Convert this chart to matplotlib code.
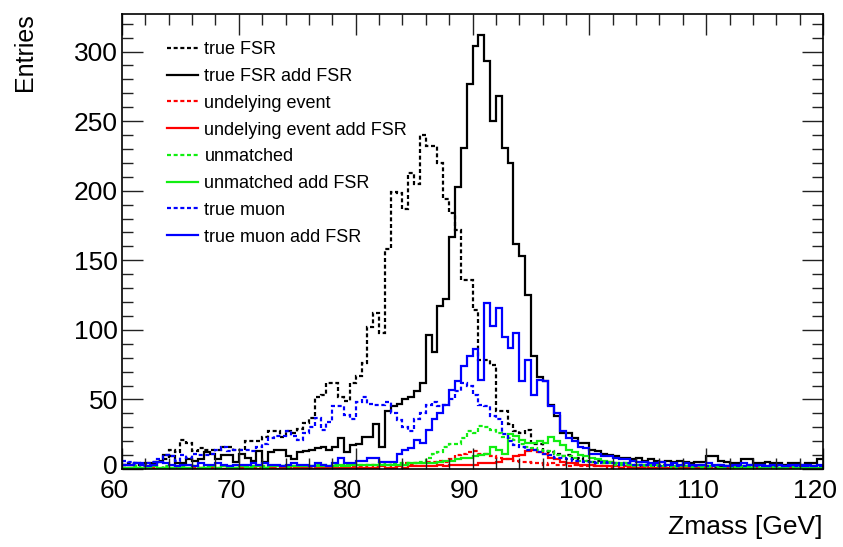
import numpy as np
import matplotlib
matplotlib.use("Agg")
import matplotlib.pyplot as plt
import matplotlib.transforms as mtransforms
from matplotlib.ticker import MultipleLocator

plt.rcParams['font.family'] = ['Liberation Sans', 'DejaVu Sans']

# Z mass histograms, 120 bins of 0.5 GeV between 60 and 120 GeV
bin_edges = np.linspace(60, 120, 121)

true_fsr = [
    3, 4, 3, 2, 3, 5, 6, 7, 14, 12,
    21, 19, 13, 15, 14, 14, 14, 16, 16, 14,
    14, 20, 20, 20, 23, 27, 27, 23, 27, 26,
    29, 33, 37, 52, 53, 62, 62, 52, 49, 62,
    67, 76, 102, 112, 98, 158, 199, 198, 187, 213,
    205, 240, 232, 232, 220, 194, 184, 172, 136, 136,
    114, 78, 78, 75, 42, 42, 32, 27, 26, 28,
    18, 18, 13, 12, 11, 9, 10, 7, 8, 6,
    5, 6, 4, 5, 4, 3, 4, 3, 2, 3,
    3, 2, 3, 2, 2, 3, 2, 2, 1, 2,
    2, 1, 2, 2, 1, 2, 1, 1, 2, 1,
    1, 2, 1, 1, 1, 1, 2, 1, 1, 1]

true_fsr_add = [
    3, 3, 4, 3, 4, 4, 5, 10, 9, 4,
    4, 7, 6, 7, 12, 11, 7, 10, 10, 5,
    11, 8, 6, 13, 5, 12, 14, 14, 9, 7,
    12, 13, 14, 15, 16, 14, 16, 22, 12, 17,
    18, 23, 23, 32, 16, 42, 45, 47, 50, 52,
    56, 62, 96, 84, 117, 122, 167, 203, 231, 277,
    304, 312, 293, 250, 268, 231, 220, 162, 153, 125,
    81, 66, 63, 46, 38, 26, 26, 22, 19, 19,
    14, 13, 11, 10, 9, 8, 8, 7, 8, 6,
    7, 6, 5, 6, 5, 6, 5, 4, 5, 5,
    9, 9, 6, 5, 4, 4, 7, 7, 4, 4,
    5, 4, 4, 3, 4, 4, 3, 4, 4, 7]

underlying = [
    1, 0, 1, 0, 1, 1, 0, 1, 0, 1,
    1, 0, 1, 1, 0, 1, 1, 0, 1, 1,
    1, 1, 0, 1, 1, 1, 1, 1, 1, 1,
    1, 2, 1, 1, 2, 1, 2, 1, 2, 2,
    2, 2, 3, 2, 3, 3, 2, 3, 4, 3,
    4, 4, 5, 5, 6, 5, 7, 10, 11, 12,
    13, 11, 11, 9, 8, 7, 7, 6, 5, 5,
    4, 4, 3, 4, 3, 3, 2, 3, 2, 2,
    2, 2, 2, 1, 2, 1, 1, 2, 1, 1,
    1, 1, 1, 1, 1, 0, 1, 1, 1, 0,
    1, 0, 1, 1, 0, 1, 0, 1, 0, 1,
    0, 1, 0, 1, 0, 0, 1, 0, 1, 0]

underlying_add = [
    0, 1, 0, 0, 1, 0, 0, 1, 0, 0,
    1, 0, 0, 1, 0, 1, 0, 0, 1, 0,
    1, 0, 1, 0, 1, 1, 0, 1, 1, 0,
    1, 1, 0, 1, 1, 1, 1, 1, 1, 1,
    1, 1, 1, 1, 2, 1, 1, 2, 1, 2,
    2, 2, 2, 2, 3, 2, 3, 3, 3, 3,
    3, 4, 4, 4, 5, 7, 7, 9, 10, 13,
    14, 12, 11, 8, 7, 5, 4, 4, 3, 3,
    3, 2, 2, 2, 2, 1, 2, 1, 1, 2,
    1, 1, 1, 1, 1, 1, 1, 0, 1, 1,
    1, 0, 1, 1, 0, 1, 0, 1, 1, 0,
    1, 0, 1, 0, 1, 0, 0, 1, 0, 1]

unmatched = [
    1, 1, 2, 1, 1, 2, 1, 2, 1, 1,
    2, 1, 2, 1, 2, 2, 1, 2, 2, 1,
    2, 2, 1, 2, 2, 2, 2, 2, 1, 2,
    2, 2, 2, 3, 2, 2, 3, 2, 3, 3,
    3, 3, 3, 3, 4, 3, 4, 4, 4, 4,
    4, 5, 8, 11, 12, 16, 18, 18, 22, 27,
    26, 31, 30, 28, 26, 23, 22, 21, 18, 16,
    15, 14, 13, 13, 10, 9, 9, 8, 6, 6,
    5, 4, 4, 4, 3, 3, 3, 2, 3, 2,
    2, 2, 2, 2, 1, 2, 2, 1, 2, 1,
    1, 2, 1, 1, 1, 1, 1, 2, 1, 1,
    1, 1, 1, 1, 1, 1, 1, 1, 1, 1]

unmatched_add = [
    1, 1, 1, 1, 1, 2, 1, 1, 1, 2,
    1, 1, 2, 1, 1, 2, 1, 2, 1, 1,
    2, 1, 2, 2, 1, 2, 2, 2, 2, 2,
    2, 2, 2, 2, 3, 2, 2, 3, 2, 3,
    3, 3, 3, 3, 3, 3, 3, 3, 3, 4,
    4, 4, 4, 4, 5, 6, 6, 7, 8, 8,
    9, 10, 11, 16, 14, 11, 25, 24, 21, 19,
    19, 20, 19, 23, 20, 17, 14, 12, 10, 9,
    8, 7, 6, 5, 4, 4, 4, 3, 3, 3,
    3, 3, 2, 3, 2, 2, 2, 2, 2, 2,
    2, 2, 1, 2, 2, 1, 2, 1, 2, 1,
    1, 2, 1, 1, 2, 1, 1, 1, 1, 1]

true_muon = [
    6, 5, 4, 4, 4, 5, 7, 10, 9, 6,
    10, 8, 11, 10, 10, 11, 14, 16, 13, 14,
    14, 14, 13, 16, 18, 22, 24, 24, 27, 24,
    21, 26, 30, 37, 28, 34, 45, 45, 39, 36,
    48, 52, 47, 46, 46, 48, 40, 35, 30, 27,
    36, 40, 46, 48, 45, 46, 50, 56, 62, 60,
    53, 46, 45, 38, 36, 25, 20, 17, 16, 14,
    14, 12, 11, 10, 8, 8, 7, 6, 6, 5,
    5, 4, 5, 4, 4, 3, 4, 3, 3, 3,
    3, 3, 2, 3, 3, 2, 3, 2, 2, 3,
    2, 2, 3, 2, 2, 2, 2, 3, 2, 2,
    2, 2, 2, 2, 2, 2, 3, 2, 2, 2]

true_muon_add = [
    3, 3, 4, 3, 2, 3, 5, 4, 3, 2,
    3, 3, 2, 4, 3, 3, 4, 3, 2, 3,
    3, 3, 4, 3, 4, 3, 3, 2, 3, 4,
    3, 3, 2, 4, 3, 2, 4, 8, 4, 4,
    6, 6, 8, 8, 5, 5, 5, 11, 14, 15,
    21, 19, 28, 36, 40, 46, 57, 63, 74, 81,
    86, 64, 119, 103, 116, 95, 87, 98, 63, 78,
    53, 64, 63, 45, 40, 27, 22, 20, 16, 15,
    11, 11, 9, 9, 8, 7, 7, 6, 5, 5,
    4, 4, 5, 3, 4, 3, 4, 3, 3, 3,
    4, 3, 3, 2, 3, 3, 4, 3, 3, 3,
    2, 3, 3, 2, 3, 3, 2, 3, 2, 3]

series = [
    ("true FSR", true_fsr, "black", "dashed"),
    ("true FSR add FSR", true_fsr_add, "black", "solid"),
    ("undelying event", underlying, "#ff0000", "dashed"),
    ("undelying event add FSR", underlying_add, "#ff0000", "solid"),
    ("unmatched", unmatched, "#11ee11", "dashed"),
    ("unmatched add FSR", unmatched_add, "#11ee11", "solid"),
    ("true muon", true_muon, "#0000ff", "dashed"),
    ("true muon add FSR", true_muon_add, "#0000ff", "solid"),
]

fig = plt.figure(figsize=(8.43, 5.47), dpi=100)
ax = fig.add_axes([122 / 843, 1 - 469 / 547, 701 / 843, 455 / 547])

lw = 1.6
short_dash = (0, (1.8, 1.2))
for label, vals, color, style in series:
    ls = short_dash if style == "dashed" else "-"
    ax.stairs(vals, bin_edges, color=color, linewidth=lw, linestyle=ls,
              label=label, baseline=None)

ax.set_xlim(60, 120)
ax.set_ylim(0, 327)

ax.xaxis.set_major_locator(MultipleLocator(10))
ax.xaxis.set_minor_locator(MultipleLocator(2))
ax.yaxis.set_major_locator(MultipleLocator(50))
ax.yaxis.set_minor_locator(MultipleLocator(10))
ax.tick_params(which="both", direction="in", top=True, right=True,
               width=1.0, color="#222222")
ax.tick_params(which="major", length=15, labelsize=19)
ax.tick_params(which="minor", length=8)
ax.tick_params(axis="y", pad=3)
ax.tick_params(axis="x", pad=7)
for sp in ax.spines.values():
    sp.set_linewidth(1.2)

# x labels sit slightly left of their ticks
shift = mtransforms.ScaledTranslation(-8 / 100, 0, fig.dpi_scale_trans)
for lab in ax.get_xticklabels():
    lab.set_transform(lab.get_transform() + shift)

# lift the zero label a little off the x-axis labels
fig.canvas.draw()
lift = mtransforms.ScaledTranslation(0, 4 / 100, fig.dpi_scale_trans)
for tick in ax.yaxis.get_major_ticks():
    if abs(tick.get_loc()) < 1e-9:
        tick.label1.set_transform(tick.label1.get_transform() + lift)

fig.text(823 / 843, 1 - 527 / 547, "Zmass [GeV]", ha="right", va="center",
         fontsize=19)
fig.text(25 / 843, 1 - 13 / 547, "Entries", ha="center", va="top",
         rotation=90, fontsize=18)

ax.legend(loc="upper left", bbox_to_anchor=(0.064, 0.94), frameon=False,
          fontsize=13, handlelength=1.75, handletextpad=0.33,
          labelspacing=0.54, borderpad=0, borderaxespad=0)

fig.savefig("out.png", dpi=100)
